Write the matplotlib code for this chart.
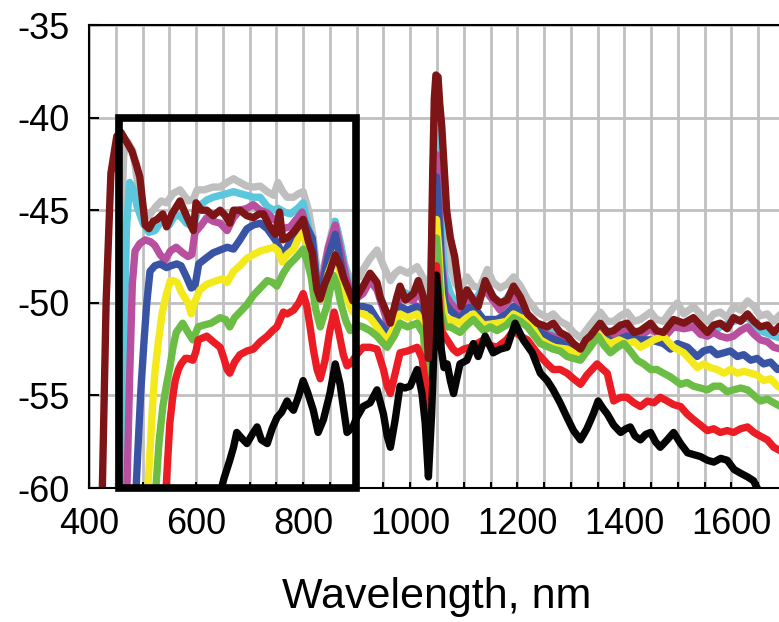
import numpy as np
import matplotlib
matplotlib.use('Agg')
import matplotlib.pyplot as plt
from matplotlib.patches import Rectangle
from matplotlib.ticker import MultipleLocator

# spectra, wavelength in nm, level in dB
gray_wl = [455, 460, 465, 472, 482, 492, 501, 512, 525, 535, 545, 557, 570, 585, 595, 602, 615, 632, 645, 658, 670, 682, 695, 707, 720, 733, 745, 753, 762, 770, 782, 792, 800, 810, 819, 826, 835, 847, 858, 865, 875, 885, 893, 905, 912, 925, 938, 950, 963, 972, 981, 995, 1013, 1025, 1033, 1039, 1044, 1049, 1054, 1060, 1067, 1075, 1085, 1093, 1106, 1118, 1130, 1144, 1155, 1168, 1181, 1193, 1206, 1219, 1237, 1256, 1267, 1280, 1293, 1305, 1318, 1336, 1355, 1368, 1380, 1393, 1405, 1418, 1430, 1449, 1460, 1473, 1485, 1499, 1511, 1529, 1542, 1555, 1567, 1579, 1592, 1604, 1617, 1630, 1642, 1654, 1667, 1679, 1692]
gray_db = [-60, -46, -42, -41.3, -41.8, -43.7, -45, -45.3, -44.8, -44.5, -44.6, -44.1, -43.9, -44.5, -44.4, -43.9, -43.9, -43.75, -43.75, -43.5, -43.3, -43.5, -43.7, -43.75, -43.7, -44, -44.2, -43.5, -44, -44.3, -44.3, -44.1, -44, -45, -46.5, -48.2, -48.5, -47, -45.6, -46.2, -47.8, -48.5, -48.8, -48.6, -48.2, -47.6, -47.15, -48, -48.8, -48.4, -48.2, -48.4, -48.05, -48.7, -51.5, -48, -42, -40.6, -41.8, -44, -46.5, -48, -49, -49.3, -48.6, -49.1, -49.2, -48.2, -48.9, -49.2, -49, -48.6, -49.1, -49.8, -50.5, -50.8, -50.6, -51, -51.2, -51.6, -51.9, -51.2, -50.5, -51, -51, -50.7, -50.5, -51, -50.9, -50.5, -50.9, -51, -50.5, -50, -50.6, -50.2, -50.6, -51, -50.6, -50.5, -50.8, -50.2, -50.4, -49.9, -50.2, -50.7, -50.6, -51, -50.6]

cyan_wl = [461, 466, 470, 476, 482, 490, 501, 512, 523, 535, 550, 560, 570, 582, 595, 605, 620, 632, 645, 658, 670, 682, 695, 707, 720, 733, 745, 753, 765, 776, 790, 800, 810, 819, 826, 834, 847, 860, 870, 880, 893, 912, 925, 938, 957, 963, 981, 1006, 1015, 1025, 1033, 1040, 1045, 1049, 1053, 1058, 1065, 1075, 1093, 1106, 1118, 1140, 1168, 1193, 1219, 1237, 1256, 1293, 1318, 1336, 1355, 1380, 1405, 1430, 1449, 1473, 1492, 1529, 1555, 1579, 1604, 1630, 1654, 1679, 1692]
cyan_db = [-60, -52, -46, -43.5, -43.8, -44.8, -45.7, -46.2, -46.1, -45.6, -45.8, -45.3, -45.3, -45.7, -45.9, -44.8, -44.45, -44.3, -44.2, -44.1, -44, -44.1, -44.2, -44.3, -44.3, -44.8, -45, -44.9, -45.1, -45.2, -44.9, -44.6, -45.9, -47, -49, -49.2, -47.3, -45.6, -46.8, -48.3, -49.8, -49.3, -48.6, -49.1, -50.8, -51.3, -49.3, -49.7, -49, -49.9, -53.3, -49, -42, -40.5, -42.5, -46, -48.5, -49.5, -50.4, -49.5, -50, -49, -50.2, -49.3, -50.8, -51.3, -51.5, -52, -52.7, -52, -51.3, -51.7, -51.3, -51.7, -51.3, -51.8, -51.1, -51, -51.8, -51.3, -51, -50.8, -51.5, -51.8, -51.9]

magenta_wl = [471, 476, 481, 486, 495, 505, 515, 523, 533, 542, 552, 563, 575, 585, 592, 598, 610, 620, 632, 645, 658, 670, 682, 695, 707, 720, 733, 745, 753, 761, 776, 790, 798, 810, 819, 826, 834, 847, 860, 870, 880, 893, 912, 925, 938, 957, 963, 981, 1006, 1015, 1025, 1033, 1041, 1046, 1049, 1053, 1058, 1065, 1075, 1093, 1106, 1118, 1140, 1168, 1193, 1219, 1237, 1256, 1293, 1318, 1336, 1355, 1380, 1405, 1430, 1449, 1473, 1492, 1511, 1529, 1542, 1555, 1567, 1579, 1592, 1604, 1617, 1630, 1642, 1654, 1667, 1679, 1692]
magenta_db = [-60, -54, -49, -47.2, -46.8, -46.6, -46.7, -46.9, -47.4, -47.7, -47.2, -47, -47.3, -47.5, -47.4, -46.2, -45.8, -45.4, -45.6, -45.7, -46.1, -45.4, -45, -44.9, -44.7, -45, -45.15, -45.5, -45.5, -46, -45.9, -45.4, -45.1, -46.3, -47.3, -49.2, -49.1, -47, -45.8, -47.2, -48.6, -49.9, -49.5, -48.8, -49.3, -51, -51.5, -49.6, -49.9, -49.2, -50.1, -54, -50, -44, -42, -44, -47.5, -49.5, -50, -50.6, -49.7, -50.2, -49.3, -50.4, -49.6, -50.9, -51.4, -51.7, -52.1, -52.8, -52.1, -51.5, -51.8, -51.5, -51.8, -51.4, -51.9, -51.3, -51.4, -51.3, -51.7, -51.8, -51.6, -51.8, -51.9, -51.8, -51.5, -51.3, -51.7, -52, -52.1, -52.4, -52.5]

blue_wl = [488, 493, 497, 503, 508, 514, 523, 533, 545, 553, 564, 572, 582, 591, 598, 605, 618, 632, 645, 658, 670, 682, 695, 707, 720, 733, 748, 757, 763, 776, 790, 800, 810, 817, 826, 834, 847, 860, 870, 880, 893, 912, 925, 938, 957, 963, 981, 995, 1013, 1025, 1033, 1041, 1046, 1049, 1053, 1058, 1065, 1075, 1093, 1106, 1118, 1137, 1162, 1180, 1193, 1206, 1219, 1243, 1262, 1280, 1293, 1318, 1336, 1355, 1380, 1405, 1430, 1449, 1473, 1486, 1499, 1518, 1536, 1548, 1561, 1573, 1586, 1598, 1611, 1623, 1636, 1648, 1660, 1673, 1686, 1692]
blue_db = [-60, -57, -54.7, -52, -50, -48.3, -48, -47.9, -48.1, -48, -47.9, -48, -48.6, -49.2, -49.1, -47.9, -47.6, -47.3, -47.15, -47, -47.1, -46.6, -46, -45.8, -45.7, -46, -46.6, -47.1, -47.4, -46.7, -46.1, -45.5, -46.1, -46.5, -49, -49.3, -47.5, -46.3, -47.8, -49.3, -50.2, -50.2, -50.3, -50.9, -51.6, -51.7, -50.2, -50.4, -50.2, -50.8, -54.6, -51, -45, -43.2, -45, -48, -50, -50.4, -50.9, -50.3, -50.2, -50.9, -50.9, -50.6, -50.2, -50.5, -50.9, -51.6, -51.9, -52.1, -52.3, -52.9, -52.2, -51.8, -52.1, -51.8, -52, -52, -52.2, -52.5, -52.2, -52.4, -52.9, -52.6, -52.5, -52.8, -52.7, -52.6, -52.9, -52.8, -53.1, -53, -53.3, -53.2, -53.6, -53.5]

yellow_wl = [510, 515, 519, 523, 530, 537, 545, 552, 557, 565, 572, 585, 591, 597, 607, 620, 639, 650, 658, 670, 682, 695, 707, 720, 733, 745, 753, 761, 770, 782, 790, 800, 810, 817, 826, 834, 847, 860, 870, 882, 893, 912, 925, 938, 950, 957, 970, 981, 995, 1013, 1025, 1033, 1041, 1046, 1049, 1053, 1058, 1065, 1075, 1093, 1106, 1118, 1137, 1162, 1180, 1193, 1206, 1219, 1243, 1267, 1293, 1305, 1318, 1336, 1349, 1362, 1374, 1390, 1405, 1418, 1430, 1443, 1455, 1473, 1482, 1492, 1511, 1524, 1536, 1548, 1561, 1573, 1586, 1598, 1611, 1623, 1636, 1648, 1660, 1673, 1686, 1692]
yellow_db = [-60, -57.5, -55.5, -53.8, -52, -50.5, -49.5, -48.8, -48.8, -48.9, -49.4, -50, -50.6, -50, -49.3, -49, -48.8, -48.7, -48.9, -48.3, -48, -47.6, -47.4, -47.2, -47.1, -47, -47.2, -47.8, -47.4, -47.1, -46.6, -46.2, -47.2, -47.5, -49.6, -49.8, -48.4, -47.4, -48.5, -49.85, -50.5, -50.6, -50.8, -51.3, -51.8, -52, -51.3, -50.6, -50.8, -50.6, -51.2, -55.1, -52, -47, -45.5, -47, -49.5, -50.8, -50.9, -51.1, -50.8, -50.6, -51.2, -51.1, -51, -50.6, -50.8, -50.9, -52, -52.4, -52.5, -52.7, -52.9, -52.2, -51.6, -52, -52.2, -52, -52.2, -52.1, -52.4, -52.2, -52, -51.8, -52.1, -52.4, -52.7, -53.1, -53.5, -53.3, -53.5, -53.6, -53.8, -53.6, -53.8, -53.7, -53.8, -53.9, -54.2, -54.1, -54.5, -54.6]

green_wl = [525, 531, 538, 545, 551, 557, 563, 575, 585, 594, 604, 615, 628, 645, 655, 663, 672, 682, 695, 707, 720, 733, 743, 751, 763, 772, 782, 792, 800, 808, 815, 823, 832, 845, 856, 863, 870, 880, 888, 900, 912, 925, 938, 950, 957, 970, 981, 995, 1013, 1025, 1033, 1041, 1046, 1049, 1053, 1058, 1065, 1075, 1093, 1106, 1118, 1137, 1150, 1162, 1180, 1193, 1206, 1219, 1243, 1267, 1280, 1293, 1305, 1318, 1336, 1351, 1362, 1374, 1387, 1399, 1411, 1424, 1436, 1449, 1461, 1473, 1486, 1505, 1517, 1529, 1542, 1555, 1567, 1579, 1592, 1604, 1617, 1630, 1642, 1654, 1667, 1679, 1692]
green_db = [-60, -57.5, -55.6, -54.4, -53.5, -52.4, -51.6, -51.1, -51.6, -52, -51.3, -51.2, -51.1, -50.8, -50.9, -51.3, -50.8, -50.5, -50.1, -49.6, -49.2, -48.8, -48.9, -49.1, -48.4, -48, -47.7, -47.4, -47.1, -47.8, -48.6, -50.3, -51.3, -50.1, -48.5, -49, -50, -51, -51.5, -51.2, -51.3, -51.5, -51.8, -52.2, -52.4, -51.8, -51.1, -51.3, -51.1, -51.7, -55.5, -53, -48, -46.5, -48, -50.5, -51.3, -51.3, -51.6, -51.2, -50.9, -51.5, -51.3, -51.5, -51.2, -50.8, -51, -51.3, -52.2, -52.5, -52.6, -52.9, -53, -53.1, -52.4, -51.8, -52.3, -52.7, -52.4, -52.2, -52.6, -53.1, -53.3, -53.6, -53.6, -53.8, -54, -54.4, -54.3, -54.5, -54.6, -54.7, -54.5, -54.5, -54.8, -54.7, -54.6, -54.7, -55, -55.3, -55.2, -55.4, -55.6]

red_wl = [544, 548, 551, 556, 561, 567, 572, 580, 585, 594, 600, 604, 612, 620, 632, 645, 652, 658, 663, 672, 682, 695, 707, 720, 733, 743, 751, 763, 770, 782, 792, 800, 807, 813, 819, 826, 832, 841, 850, 858, 866, 875, 882, 888, 900, 912, 925, 938, 950, 957, 963, 972, 981, 995, 1013, 1022, 1028, 1034, 1041, 1046, 1049, 1053, 1058, 1069, 1080, 1088, 1100, 1112, 1125, 1137, 1150, 1162, 1180, 1193, 1206, 1219, 1237, 1256, 1267, 1280, 1293, 1305, 1318, 1330, 1349, 1360, 1368, 1380, 1393, 1405, 1418, 1430, 1443, 1455, 1467, 1480, 1492, 1505, 1517, 1529, 1542, 1555, 1567, 1579, 1592, 1604, 1617, 1630, 1642, 1654, 1667, 1679, 1692]
red_db = [-60, -58, -56.5, -55.2, -54.2, -53.6, -53.3, -53, -53, -53.1, -52.6, -52, -51.9, -51.8, -52.1, -52.4, -53, -53.6, -53.8, -53.2, -52.8, -52.6, -52.5, -52.1, -51.8, -51.5, -51.3, -50.5, -50.6, -50.4, -50, -49.5, -50.2, -51.3, -52.5, -53.6, -54.1, -53.1, -51.5, -50.5, -51.5, -52.8, -53.4, -53.3, -52.8, -52.4, -52.4, -52.5, -53.6, -54.5, -54.9, -53.8, -52.7, -52.6, -52.4, -53, -54.2, -56.7, -54.5, -49.5, -48, -49.5, -51.5, -52, -52.5, -52.7, -52.5, -52.4, -52.2, -52, -52.3, -52.4, -52, -51.5, -51.8, -52, -52.7, -53.3, -53.6, -53.6, -53.8, -54.1, -54.4, -53.9, -53.3, -53.6, -53.8, -55.3, -55.1, -55.1, -55.4, -55.6, -55.3, -55.4, -55.1, -55.3, -55.5, -55.6, -56, -56.3, -56.6, -56.9, -56.8, -57, -56.9, -57, -56.8, -56.7, -57, -57.2, -57.4, -57.8, -58]

black_wl = [645, 652, 663, 670, 676, 685, 695, 705, 714, 722, 733, 742, 751, 760, 770, 776, 782, 792, 800, 808, 819, 828, 838, 850, 860, 869, 876, 882, 893, 900, 912, 925, 938, 950, 957, 963, 972, 981, 990, 1000, 1013, 1022, 1028, 1034, 1040, 1045, 1049, 1053, 1058, 1063, 1069, 1075, 1081, 1093, 1106, 1118, 1127, 1140, 1155, 1168, 1181, 1196, 1211, 1228, 1243, 1256, 1267, 1280, 1293, 1305, 1318, 1330, 1342, 1351, 1360, 1368, 1380, 1393, 1403, 1411, 1420, 1430, 1440, 1449, 1458, 1467, 1480, 1492, 1505, 1518, 1530, 1542, 1555, 1567, 1580, 1592, 1605, 1617, 1630, 1641, 1648, 1655]
black_db = [-60.3, -59.5, -58.5, -57.8, -57, -57.3, -57.6, -57.1, -56.7, -57.4, -57.6, -56.8, -56.2, -55.9, -55.3, -55.6, -55.8, -55, -54.2, -54.8, -55.8, -57, -56.3, -54.9, -53.3, -54.4, -55.8, -57, -56.7, -56.2, -55.6, -55.4, -54.7, -56, -57.2, -57.8, -56.3, -54.5, -54.6, -54.5, -53.6, -54.9, -56.5, -59.4, -56, -52, -48.5, -50, -52.5, -53.5, -53.3, -54.2, -54.9, -53.3, -53.1, -52.2, -52.9, -51.8, -52.7, -52.5, -52.4, -51.1, -52, -52.7, -53.8, -54.2, -54.7, -55.4, -56.2, -56.9, -57.4, -56.8, -56, -55.3, -55.7, -56, -56.6, -57, -56.8, -56.7, -57.2, -57.4, -57.1, -57, -57.5, -57.8, -57.4, -57, -57.6, -58.1, -58.2, -58.3, -58.5, -58.6, -58.4, -58.5, -59, -59.2, -59.4, -59.6, -60, -60.3]

maroon_wl = [425, 432, 441, 452, 460, 470, 480, 488, 495, 500, 505, 512, 520, 527, 538, 545, 555, 570, 582, 595, 600, 610, 620, 632, 645, 655, 663, 670, 682, 695, 707, 718, 726, 738, 748, 756, 762, 770, 782, 792, 800, 810, 817, 826, 832, 840, 850, 860, 869, 875, 882, 893, 900, 912, 925, 938, 944, 957, 963, 975, 981, 991, 1006, 1015, 1025, 1030, 1034, 1038, 1042, 1045, 1048, 1052, 1055, 1059, 1063, 1068, 1075, 1083, 1090, 1095, 1106, 1118, 1127, 1140, 1155, 1168, 1181, 1193, 1206, 1219, 1237, 1256, 1267, 1280, 1293, 1305, 1318, 1328, 1336, 1355, 1368, 1380, 1393, 1405, 1418, 1430, 1449, 1460, 1473, 1492, 1511, 1529, 1542, 1555, 1567, 1579, 1592, 1604, 1617, 1630, 1642, 1654, 1667, 1679, 1692]
maroon_db = [-60, -50, -43, -41, -40.8, -41.3, -41.8, -42.5, -43.2, -44.5, -45.8, -46, -45.6, -45.5, -45.2, -45.9, -45.2, -44.5, -45.3, -46.1, -44.6, -45, -45, -45.3, -45, -45.3, -45.7, -45, -45, -45.3, -45.4, -45.2, -45.2, -45.9, -46.3, -45.1, -46.6, -46.5, -46.2, -45.8, -45.5, -46.7, -47.3, -49.3, -49.8, -49, -48.3, -47.4, -48, -48.6, -49.1, -49.9, -49.7, -49.1, -48.4, -48.9, -49.7, -50.6, -51.1, -49.7, -49.1, -49.85, -49.5, -48.8, -49.7, -51, -53, -50, -43, -39, -37.7, -37.8, -39.2, -40.5, -42.5, -45, -46.5, -47.5, -49, -50.2, -49.3, -49.85, -50.2, -48.8, -49.7, -50, -49.85, -49.1, -49.7, -50.6, -51.1, -51.3, -51.1, -51.6, -51.8, -52.2, -52.5, -52, -51.8, -51.1, -51.6, -51.5, -51.2, -51.1, -51.6, -51.5, -51.1, -51.5, -51.6, -50.9, -51.1, -50.8, -51.2, -51.6, -51.2, -51.1, -51.4, -50.8, -51, -50.6, -51, -51.3, -51.2, -51.6, -51.2]

plt.rcParams['font.family'] = ['Liberation Sans', 'DejaVu Sans']
plt.rcParams['axes.unicode_minus'] = False

fig = plt.figure(figsize=(7.79, 6.22), dpi=100)
ax = fig.add_axes([0.1142, 0.2154, 0.8935, 0.7444])

series = [
    (gray_wl, gray_db, '#bfbfbf'),
    (cyan_wl, cyan_db, '#5bc7dd'),
    (magenta_wl, magenta_db, '#b8509f'),
    (blue_wl, blue_db, '#3a54a5'),
    (yellow_wl, yellow_db, '#f4ea1b'),
    (green_wl, green_db, '#6bbd45'),
    (red_wl, red_db, '#ec1c24'),
    (black_wl, black_db, '#050505'),
    (maroon_wl, maroon_db, '#7d1416'),
]
for wl, db, c in series:
    ax.plot(wl, db, color=c, lw=5.3, solid_joinstyle='round', solid_capstyle='round')

# highlighted region
ax.add_patch(Rectangle((456, -60), 443, 20, fill=False, ec='black', lw=5.5,
                       clip_on=False, zorder=5))

ax.set_xlim(400, 1700)
ax.set_ylim(-60, -35)
ax.xaxis.set_major_locator(MultipleLocator(200))
ax.xaxis.set_minor_locator(MultipleLocator(50))
ax.yaxis.set_major_locator(MultipleLocator(5))
ax.grid(which='both', axis='x', color='#c0c0c0', lw=2)
ax.grid(which='major', axis='y', color='#c0c0c0', lw=2)
ax.set_axisbelow(True)
ax.tick_params(axis='both', which='both', direction='in', width=1.5,
               labelsize=26, color='black')
ax.tick_params(axis='x', which='both', length=4, pad=14)
ax.tick_params(axis='y', which='major', length=7, pad=14)
for s in ['left', 'bottom', 'top']:
    ax.spines[s].set_linewidth(1.5)
ax.spines['right'].set_visible(False)
ax.set_xlabel('Wavelength, nm', fontsize=31, labelpad=25)

fig.savefig('out.png', dpi=100)
